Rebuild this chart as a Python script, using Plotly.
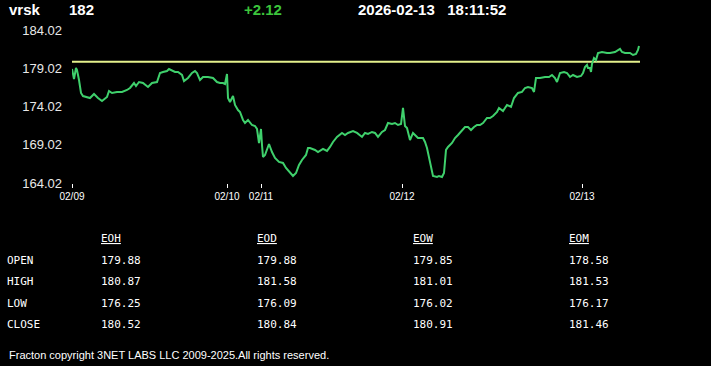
import plotly.graph_objects as go

# ---------------- data ----------------
ticker = "vrsk"
last_price = "182"
change = "+2.12"
stamp_date = "2026-02-13"
stamp_time = "18:11:52"
prev_close = 179.88

bar_index = [0, 2, 4, 5, 7, 9, 11, 15, 18, 22, 26, 30, 35, 37, 40, 45, 50, 55, 58, 62, 64, 67, 71, 76, 80, 85,
             88, 91, 95, 97, 103, 106, 110, 112, 116, 120, 123, 125, 128, 131, 136, 141, 145, 148, 151, 153,
             155, 156, 158, 161, 163, 166, 168, 171, 173, 176, 180, 183, 185, 187, 189, 190, 191, 193, 195,
             197, 200, 203, 207, 211, 214, 218, 221, 224, 227, 230, 234, 236, 238, 243, 246, 251, 255, 258,
             261, 265, 270, 273, 276, 281, 285, 290, 293, 296, 300, 303, 306, 310, 313, 316, 320, 323, 326,
             329, 331, 333, 335, 338, 341, 343, 346, 351, 353, 355, 357, 360, 361, 365, 367, 370, 372, 374,
             376, 380, 383, 386, 390, 393, 396, 399, 402, 405, 408, 411, 415, 418, 421, 425, 427, 431, 435,
             439, 442, 446, 450, 453, 456, 460, 462, 464, 468, 473, 477, 480, 483, 485, 488, 492, 495, 498,
             501, 505, 509, 511, 513, 515, 516, 518, 519, 520, 522, 524, 526, 530, 535, 538, 543, 546, 548,
             550, 553, 558, 561, 564, 566, 567]
price = [178.92, 177.62, 179.05, 178.79, 177.48, 175.79, 175.39, 175.26, 175.13, 175.66, 175.13, 174.74,
         175.26, 176.05, 175.79, 175.92, 175.92, 176.18, 176.44, 177.09, 176.70, 177.22, 177.09, 176.57,
         177.09, 177.22, 178.40, 178.53, 178.66, 178.92, 178.53, 178.53, 178.14, 177.35, 177.75, 178.40,
         178.66, 178.40, 177.48, 177.88, 177.88, 177.75, 177.22, 177.09, 177.09, 176.96, 178.27, 175.13,
         174.61, 175.39, 174.22, 173.56, 173.30, 172.26, 171.86, 172.26, 171.60, 171.47, 171.08, 169.25,
         171.08, 168.99, 167.42, 167.68, 168.34, 169.12, 168.07, 167.29, 166.77, 166.64, 165.98, 165.33,
         164.94, 165.33, 166.38, 167.03, 167.68, 168.60, 168.60, 168.34, 168.07, 168.47, 168.21, 168.73,
         169.38, 170.04, 170.56, 170.30, 170.56, 170.82, 170.56, 170.04, 170.56, 170.43, 170.69, 170.56,
         170.04, 170.69, 170.95, 171.86, 171.73, 171.86, 171.60, 171.73, 173.83, 171.47, 171.21, 169.64,
         170.56, 170.30, 169.90, 169.90, 169.38, 168.60, 167.42, 165.72, 164.94, 164.81, 164.94, 164.81,
         165.33, 168.34, 168.73, 169.25, 169.90, 170.30, 170.95, 171.34, 171.34, 170.95, 171.34, 171.60,
         171.60, 171.86, 172.52, 172.52, 172.78, 173.30, 173.83, 173.43, 174.22, 173.96, 175.13, 175.79,
         175.92, 176.44, 176.57, 176.44, 175.92, 177.75, 177.75, 177.88, 177.88, 178.14, 177.75, 177.22,
         178.40, 178.53, 178.40, 177.88, 178.14, 177.88, 178.01, 178.40, 179.18, 179.45, 179.05, 179.05,
         178.53, 179.58, 180.36, 180.10, 181.01, 181.14, 181.01, 181.01, 181.14, 181.41, 181.54, 181.14,
         181.01, 181.01, 180.75, 180.88, 181.41, 181.93]

last_index = 568
day_tick_index = [0, 155, 189, 330, 510]
day_tick_label = ["02/09", "02/10", "02/11", "02/12", "02/13"]
price_ticks = [164.02, 169.02, 174.02, 179.02, 184.02]

table_cols = ["EOH", "EOD", "EOW", "EOM"]
table_rows = ["OPEN", "HIGH", "LOW", "CLOSE"]
eoh = ["179.88", "180.87", "176.25", "180.52"]
eod = ["179.88", "181.58", "176.09", "180.84"]
eow = ["179.85", "181.01", "176.02", "180.91"]
eom = ["178.58", "181.53", "176.17", "181.46"]

footer = "Fracton copyright 3NET LABS LLC 2009-2025.All rights reserved."

# ---------------- layout helpers ----------------
W, H = 711, 366
L, R, T, B = 72, 640, 30, 183
PAD = 1.5  # annotation inner padding


def px(x):
    return (x - PAD - L) / (R - L)


def py(y):
    return (B - y) / (B - T)


fig = go.Figure()
fig.add_trace(go.Scatter(x=[0, last_index], y=[prev_close, prev_close], mode="lines",
                         line=dict(color="#e4f08c", width=2), hoverinfo="skip"))
fig.add_trace(go.Scatter(x=bar_index, y=price, mode="lines",
                         line=dict(color="#3fd06c", width=2)))

ann = []
hfont = dict(family="Liberation Sans, Arial", size=15, color="white")
ann.append(dict(x=px(8), y=py(9), text="<b>" + ticker + "</b>", font=hfont, xanchor="left"))
ann.append(dict(x=px(68), y=py(9), text="<b>" + last_price + "</b>", font=hfont, xanchor="left"))
ann.append(dict(x=px(243), y=py(9), text="<b>" + change + "</b>",
                font=dict(family="Liberation Sans, Arial", size=15, color="#3cc43c"), xanchor="left"))
ann.append(dict(x=px(357), y=py(9), text="<b>" + stamp_date + "&nbsp;&nbsp;&nbsp;" + stamp_time + "</b>",
                font=hfont, xanchor="left"))

mfont = dict(family="DejaVu Sans Mono", size=11, color="white")
col_x = [100, 256, 412, 568]
row_y = [260, 281, 303, 324]
cols_vals = [eoh, eod, eow, eom]
for cx, name, vals in zip(col_x, table_cols, cols_vals):
    ann.append(dict(x=px(cx), y=py(238), text="<u>" + name + "</u>", font=mfont, xanchor="left"))
    for ry, v in zip(row_y, vals):
        ann.append(dict(x=px(cx), y=py(ry), text=v, font=mfont, xanchor="left"))
for ry, name in zip(row_y, table_rows):
    ann.append(dict(x=px(6), y=py(ry), text=name, font=mfont, xanchor="left"))

ann.append(dict(x=px(8), y=py(355), text=footer,
                font=dict(family="Liberation Sans, Arial", size=11, color="white"), xanchor="left"))

for a in ann:
    a.update(xref="paper", yref="paper", yanchor="middle", showarrow=False)

fig.update_layout(
    width=W, height=H,
    margin=dict(l=L, r=W - R, t=T, b=H - B),
    paper_bgcolor="black", plot_bgcolor="black",
    showlegend=False,
    annotations=ann,
    xaxis=dict(range=[0, last_index], tickvals=day_tick_index, ticktext=day_tick_label,
               showgrid=False, zeroline=False, showline=False,
               ticks="outside", ticklen=4, tickwidth=1, tickcolor="white",
               tickfont=dict(family="Liberation Sans, Arial", size=10, color="white")),
    yaxis=dict(range=[price_ticks[0], price_ticks[-1]], tickvals=price_ticks,
               ticktext=["%.2f" % v for v in price_ticks],
               showgrid=False, zeroline=False, showline=False, ticks="",
               ticklabelstandoff=9,
               tickfont=dict(family="Liberation Sans, Arial", size=13, color="#e8e8e8")),
)

fig.write_html("out.html")
